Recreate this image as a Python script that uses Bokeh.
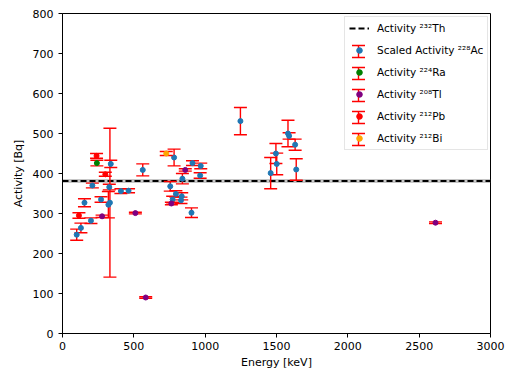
from bokeh.plotting import figure
from bokeh.models import (ColumnDataSource, Legend, LegendItem, BoxAnnotation, FixedTicker,
                          Whisker, TeeHead)
from bokeh.embed import file_html
from bokeh.resources import INLINE

# ---------------- data ----------------
energy_range = [0, 3000]
activity_range = [0, 800]

th_activity = 381.0
th_uncertainty = 5.0

ac_energy = [99.5, 129.1, 154.0, 199.4, 209.3, 270.2, 321.6, 328.0, 332.4, 338.3,
             409.5, 463.0, 562.5, 755.3, 772.3, 782.1, 794.9, 830.5, 835.7, 840.4,
             904.2, 911.2, 964.8, 969.0, 1247.1, 1459.1, 1495.9, 1501.6, 1580.5,
             1588.2, 1630.6, 1638.3]
ac_activity = [247, 264, 327, 282, 370, 335, 322, 366, 327, 424,
               356, 357, 409, 368, 335, 440, 349, 333, 343, 387,
               302, 426, 395, 419, 531, 401, 450, 424, 500,
               494, 472, 410]
ac_error = [14, 12, 10, 7, 6, 7, 33, 7, 186, 9,
            6, 5, 15, 12, 8, 21, 8, 8, 9, 13,
            12, 6, 7, 7, 34, 39, 25, 27, 33,
            8, 14, 27]

ra_energy = [241.0]
ra_activity = [426]
ra_error = [7]

tl_energy = [277.4, 510.8, 583.2, 763.1, 860.6, 2614.5]
tl_activity = [293, 301, 90, 325, 409, 277]
tl_error = [3, 2, 2, 3, 3, 2]

pb_energy = [115.2, 238.6, 300.1]
pb_activity = [295, 444, 398]
pb_error = [7, 6, 5]

bi_energy = [727.3]
bi_activity = [450]
bi_error = [5]

series = [
    ("Scaled Activity \u00b2\u00b2\u2078Ac", ac_energy, ac_activity, ac_error, "#1f77b4"),
    ("Activity \u00b2\u00b2\u2074Ra", ra_energy, ra_activity, ra_error, "green"),
    ("Activity \u00b2\u2070\u2078Tl", tl_energy, tl_activity, tl_error, "purple"),
    ("Activity \u00b2\u00b9\u00b2Pb", pb_energy, pb_activity, pb_error, "red"),
    ("Activity \u00b2\u00b9\u00b2Bi", bi_energy, bi_activity, bi_error, "orange"),
]
th_label = "Activity \u00b2\u00b3\u00b2Th"

# ---------------- layout constants ----------------
FONT = "DejaVu Sans"
W, H = 506, 373
B_LEFT, B_RIGHT, B_TOP, B_BOTTOM = 62, 16, 13, 40
FRAME_H = H - B_TOP - B_BOTTOM

LEG_PAD, LEG_GW, LEG_GH, LEG_SP, LEG_STANDOFF = 4, 20, 14, 8, 8
LEG_LEFT, LEG_TOP = 344 - B_LEFT, 18 - B_TOP          # relative to the frame
n_items = 1 + len(series)
LEG_H = 2 * LEG_PAD + n_items * LEG_GH + (n_items - 1) * LEG_SP

p = figure(width=W, height=H, x_range=tuple(energy_range), y_range=tuple(activity_range),
           output_backend="svg", toolbar_location=None,
           min_border_left=B_LEFT, min_border_right=B_RIGHT,
           min_border_top=B_TOP, min_border_bottom=B_BOTTOM)
p.background_fill_color = "white"
p.border_fill_color = "white"
p.outline_line_color = "black"
p.outline_line_width = 1
p.grid.visible = False

for ax in (p.xaxis[0], p.yaxis[0]):
    ax.axis_line_color = "black"
    ax.major_tick_line_color = "black"
    ax.major_tick_out = 4
    ax.major_tick_in = 0
    ax.minor_tick_line_color = None
    ax.major_label_text_font = FONT
    ax.major_label_text_font_size = "11px"
    ax.major_label_text_color = "black"
    ax.axis_label_text_font = FONT
    ax.axis_label_text_font_size = "11px"
    ax.axis_label_text_font_style = "normal"
    ax.axis_label_text_color = "black"

p.xaxis.major_label_standoff = 4
p.yaxis.major_label_standoff = 5
p.xaxis.ticker = FixedTicker(ticks=list(range(0, 3001, 500)))
p.yaxis.ticker = FixedTicker(ticks=list(range(0, 801, 100)))
p.xaxis.axis_label = "Energy [keV]"
p.yaxis.axis_label = "Activity [Bq]"
p.xaxis.axis_label_standoff = 3
p.yaxis.axis_label_standoff = 5

# Th-232 band and line
p.add_layout(BoxAnnotation(bottom=th_activity - th_uncertainty, top=th_activity + th_uncertainty,
                           fill_color="grey", fill_alpha=0.45, line_color=None, level="underlay"))
th_line = p.line(energy_range, [th_activity, th_activity], line_color="black",
                 line_width=2, line_dash="6 3")

items = [LegendItem(label=th_label, renderers=[th_line])]

for label, e, a, err, color in series:
    lo = [ai - ei for ai, ei in zip(a, err)]
    hi = [ai + ei for ai, ei in zip(a, err)]
    src = ColumnDataSource(dict(e=e, a=a, lo=lo, hi=hi))
    p.segment(x0="e", y0="lo", x1="e", y1="hi", source=src, line_color="red", line_width=1.4)
    p.scatter(x="e", y="lo", source=src, marker="dash", size=13, line_color="red", line_width=1.4)
    p.scatter(x="e", y="hi", source=src, marker="dash", size=13, line_color="red", line_width=1.4)
    dots = p.scatter(x="e", y="a", source=src, marker="circle", size=5,
                     fill_color=color, line_color=color)
    items.append(LegendItem(label=label, renderers=[dots]))

legend = Legend(items=items, location=(LEG_LEFT, FRAME_H - LEG_TOP - LEG_H), margin=0,
                padding=LEG_PAD, glyph_width=LEG_GW, glyph_height=LEG_GH, label_height=LEG_GH,
                spacing=LEG_SP, label_standoff=LEG_STANDOFF, label_text_font=FONT,
                label_text_font_size="10.5px", label_text_color="black",
                border_line_color="#cccccc", border_line_width=1,
                background_fill_color="white", background_fill_alpha=0.0)
p.add_layout(legend)

# error-bar symbols for the legend entries (screen units, behind the legend dots)
glyph_x = LEG_LEFT + LEG_PAD + LEG_GW / 2
centres = [LEG_TOP + LEG_PAD + LEG_GH / 2 + i * (LEG_GH + LEG_SP) for i in range(1, n_items)]
leg_src = ColumnDataSource(dict(
    base=[glyph_x] * len(centres),
    lower=[FRAME_H - c - 6 for c in centres],
    upper=[FRAME_H - c + 6 for c in centres],
))
p.add_layout(Whisker(source=leg_src, base="base", lower="lower", upper="upper",
                     dimension="height", base_units="screen", lower_units="screen",
                     upper_units="screen", line_color="red", line_width=1.4, level="underlay",
                     upper_head=TeeHead(size=13, line_color="red", line_width=1.4),
                     lower_head=TeeHead(size=13, line_color="red", line_width=1.4)))

open("out.html", "w").write(file_html(p, INLINE))
